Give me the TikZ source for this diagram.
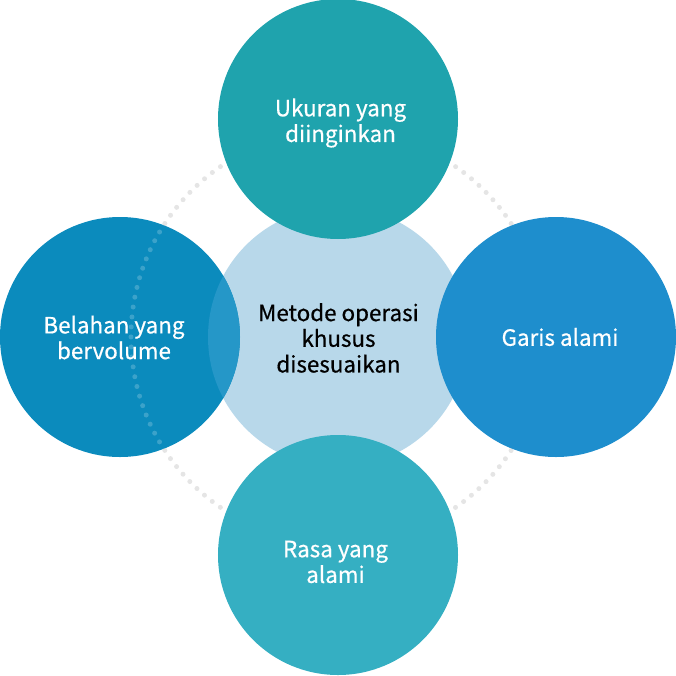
\documentclass[tikz,border=0pt]{standalone}
\usepackage{fontspec}
\setmainfont[FakeBold=0.6,BoldFont={Noto Sans CJK SC}]{Noto Sans CJK SC}
\usepackage{tikz}

\definecolor{warnaAtas}{HTML}{1FA3AD}
\definecolor{warnaKiri}{HTML}{0B8BBD}
\definecolor{warnaKanan}{HTML}{1E8ECD}
\definecolor{warnaBawah}{HTML}{35AFC2}
\definecolor{warnaTengah}{HTML}{B8D8EA}
\definecolor{warnaIrisan}{HTML}{2597C8}
\definecolor{warnaTitik}{HTML}{E5E5E5}

\begin{document}
\begin{tikzpicture}[x=1pt, y=1pt,
  bulat/.style={circle, inner sep=0pt, minimum size=240pt},
  teks/.style={align=center, text=white, font=\fontsize{22.4}{25.7}\selectfont\bfseries},
  titik/.style={line width=5pt, line cap=round, dash pattern=on 0pt off 10.005pt}]
  \useasboundingbox (-338,-338) rectangle (338,337);

  % Lingkaran titik-titik
  \draw[titik, warnaTitik] (0,0) circle (207);

  % Lingkaran tengah dan empat lingkaran luar
  \node[bulat, minimum size=260pt, fill=warnaTengah] (tengah) at (0,0) {};
  \node[bulat, fill=warnaAtas] (atas) at (0,218) {};
  \node[bulat, fill=warnaKanan] (kanan) at (218,0) {};
  \node[bulat, fill=warnaBawah] (bawah) at (0,-218) {};
  \node[bulat, fill=warnaKiri] (kiri) at (-218,0) {};

  % Irisan kiri dan titik di dalam lingkaran kiri
  \begin{scope}
    \clip (kiri.center) circle (120);
    \fill[warnaIrisan] (tengah.center) circle (130);
    \draw[titik, white, opacity=0.2] (0,0) circle (207);
  \end{scope}

  % Teks
  \node[teks, text=black] (t-tengah) at ([xshift=0.5pt, yshift=-1pt]tengah.center) {Metode operasi\\khusus\\disesuaikan};
  \node[teks] (t-atas) at ([xshift=2.5pt, yshift=-4pt]atas.center) {Ukuran yang\\diinginkan};
  \node[teks] (t-kanan) at ([xshift=4pt]kanan.center) {Garis alami};
  \node[teks] (t-bawah) at ([xshift=-2.5pt, yshift=-7pt]bawah.center) {Rasa yang\\alami};
  \node[teks] (t-kiri) at ([xshift=-6pt, yshift=-0.5pt]kiri.center) {Belahan yang\\bervolume};
\end{tikzpicture}
\end{document}
